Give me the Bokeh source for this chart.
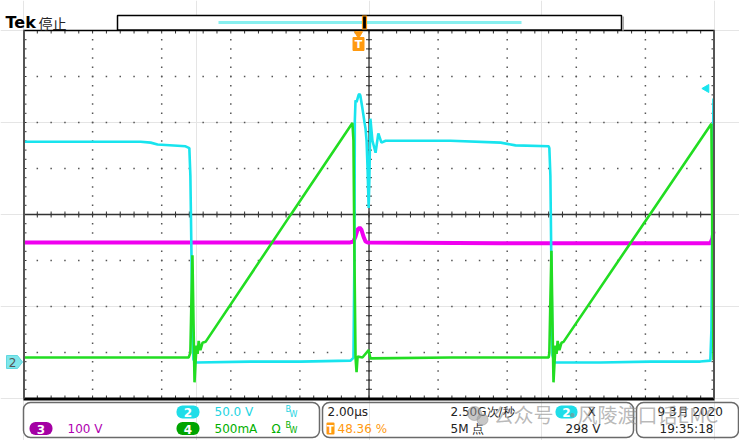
import numpy as np
from bokeh.plotting import figure
from bokeh.models import Range1d, BoxAnnotation
from bokeh.core.properties import value
from bokeh.embed import file_html
from bokeh.resources import INLINE

# ---------------- data ----------------
# time axis: microseconds, 2 us/div, screen centre = 0
# Channel 2 (cyan), volts, 50 V/div
ch2_t = [-10.00, -8.93, -7.77, -6.61, -6.32, -6.12, -5.31, -5.20, -5.17, -5.14, -5.11, -5.08, -4.99,
         -3.43, -1.98, -0.54, -0.45, -0.42, -0.41, -0.39, -0.36, -0.30, -0.27, -0.25, -0.19, -0.13,
         -0.10, -0.07, -0.04, -0.01, 0.01, 0.04, 0.10, 0.19, 0.27, 0.36, 0.48, 2.36, 3.81, 4.24,
         5.20, 5.22, 5.25, 5.28, 5.31, 5.37, 6.70, 8.15, 9.59, 9.88, 9.91, 9.94, 9.97]
ch2_v = [240, 240, 240, 240, 239, 237, 235, 233, 203, 122, 35, 3, 0,
         1, 1, 2, 5, 122, 263, 285, 283, 291, 292, 290, 276, 261,
         254, 241, 209, 168, 198, 265, 241, 228, 249, 239, 241, 241, 239, 236,
         235, 233, 203, 100, 8, 0, 0, 1, 1, 2, 35, 176, 287]
# Channel 4 (green), amps, 500 mA/div
ch4_t = [-10.00, -5.22, -5.17, -5.14, -5.11, -5.08, -5.05, -5.02, -4.99, -4.96, -4.93, -4.88, -4.82,
         -4.73, -2.27, -0.48, -0.45, -0.42, -0.39, -0.36, -0.33, -0.19, -0.01, 0.04, 2.36,
         5.20, 5.22, 5.25, 5.28, 5.31, 5.34, 5.37, 5.40, 5.43, 5.46, 5.51, 5.57, 5.63, 8.12,
         9.91, 9.94, 9.97]
ch4_i = [0.00, 0.00, 0.05, 0.62, 1.11, 0.40, -0.27, -0.05, 0.13, 0.04, 0.18, 0.08, 0.16,
         0.17, 1.55, 2.55, 2.36, 1.05, 0.00, -0.16, 0.01, 0.00, 0.08, -0.01, 0.00,
         0.00, 0.05, 0.62, 1.16, 0.40, -0.27, -0.05, 0.13, 0.04, 0.18, 0.08, 0.16, 0.17, 1.55,
         2.54, 1.16, -0.03]
# Channel 3 (magenta), volts, 100 V/div
ch3_t = [-10.00, -0.54, -0.45, -0.39, -0.33, -0.27, -0.22, -0.16, -0.10, -0.04, 3.81, 9.88, 9.94, 9.97]
ch3_v = [261, 261, 263, 274, 289, 293, 289, 274, 263, 261, 259, 259, 270, 285]

ch2_scale, ch3_scale, ch4_scale = 50.0, 100.0, 0.5

# ---------------- layout (picture pixels) ----------------
GL, GR, GT, GB = 23.0, 714.0, 30.0, 398.0
OFF = 0
W, H = 739, 440
PXX = 20.0 / (GR - GL)   # us per pixel
PXY = 8.0 / (GB - GT)    # div per pixel


def X(px):
    return -10 + (px - GL) * PXX


def Y(py):
    return 4 - (py - GT) * PXY


gnd2 = Y(362)
gnd3 = Y(362)
gnd4 = Y(357)

CYAN = "#18e4ee"
MAG = "#f000f0"
GRN = "#22dd22"
CYAN_T = "#22d4e2"
MAG_T = "#b000b0"
GRN_T = "#00b000"
ORANGE = "#ff9a10"

p = figure(width=W, height=H, x_range=Range1d(X(OFF), X(OFF + W)),
           y_range=Range1d(Y(OFF + H), Y(OFF)), output_backend="svg",
           toolbar_location=None, x_axis_location=None, y_axis_location=None,
           min_border=0, min_border_left=0, min_border_right=0, min_border_top=0,
           min_border_bottom=0, outline_line_color=None,
           background_fill_color="white", border_fill_color="white")


def txt(px, py, s, color, size="12px", font="DejaVu Sans", style="normal",
        align="left", alpha=1.0):
    p.text(x=[X(px)], y=[Y(py)], text=[s], text_color=color, text_font=value(font),
           text_font_size=size, text_font_style=style, text_align=align,
           text_baseline="middle", text_alpha=alpha)


def box(l, r, t, b, fill, line, radius, lw=1.5):
    p.add_layout(BoxAnnotation(left=X(l), right=X(r), top=Y(t), bottom=Y(b),
                               fill_color=fill if fill else "white",
                               fill_alpha=1.0 if fill else 0.0,
                               line_color=line if line else "white",
                               line_width=lw, line_alpha=1.0 if line else 0.0,
                               border_radius=int(radius), level="underlay"))


def pill(cx, cy, w, h, color, label):
    box(cx - w / 2, cx + w / 2, cy - h / 2, cy + h / 2, color, None, h // 2)
    txt(cx, cy + 0.5, label, "white", "12px", style="bold", align="center")


# ---------------- graticule ----------------
dx, dy = [], []
for i in range(1, 10):
    for j in range(1, 40):
        dx.append(-10 + 2 * i)
        dy.append(-4 + 0.2 * j)
for k in range(1, 8):
    for m in range(1, 50):
        dx.append(-10 + 0.4 * m)
        dy.append(-4 + k)
p.scatter(dx, dy, marker="square", size=1.5, color="#555555", line_color=None)

p.segment(x0=[-10, 0], y0=[0, -4], x1=[10, 0], y1=[0, 4], line_color="#333333", line_width=1.3)

tx = [-10 + 0.4 * m for m in range(1, 50)]
ty = [-4 + 0.2 * j for j in range(1, 40)]
t3y = 3 * PXY
t3x = 3 * PXX
p.segment(x0=tx, y0=[-t3y] * len(tx), x1=tx, y1=[t3y] * len(tx), line_color="#333333", line_width=1)
p.segment(x0=[-t3x] * len(ty), y0=ty, x1=[t3x] * len(ty), y1=ty, line_color="#333333", line_width=1)
p.segment(x0=tx, y0=[4] * len(tx), x1=tx, y1=[4 - t3y] * len(tx), line_color="#333333", line_width=1)
p.segment(x0=tx, y0=[-4] * len(tx), x1=tx, y1=[-4 + t3y] * len(tx), line_color="#333333", line_width=1)
p.segment(x0=[-10] * len(ty), y0=ty, x1=[-10 + t3x] * len(ty), y1=ty, line_color="#333333", line_width=1)
p.segment(x0=[10] * len(ty), y0=ty, x1=[10 - t3x] * len(ty), y1=ty, line_color="#333333", line_width=1)

# ---------------- traces ----------------
p.line(ch3_t, [gnd3 + v / ch3_scale for v in ch3_v], line_color=MAG, line_width=4)
p.line(ch2_t, [gnd2 + v / ch2_scale for v in ch2_v], line_color=CYAN, line_width=2.6)
p.line(ch4_t, [gnd4 + a / ch4_scale for a in ch4_i], line_color=GRN, line_width=2.6)

# frame
p.segment(x0=[X(GL), X(GL), X(GL + 0.5), X(GR - 0.5)],
          y0=[Y(GT), Y(GB + 0.5), Y(GT), Y(GT)],
          x1=[X(GR), X(GR), X(GL + 0.5), X(GR - 0.5)],
          y1=[Y(GT), Y(GB + 0.5), Y(GB), Y(GB)],
          line_color=["black", "black", "#555555", "#555555"], line_width=[1.5, 3, 2, 2])

# ---------------- top bar ----------------
txt(5, 22, "Tek", "black", "16px", font="DejaVu Sans", style="bold")
txt(38, 22, "停止", "#222222", "14px", font="Noto Sans CJK SC")
p.quad(left=[X(117)], right=[X(621)], top=[Y(15)], bottom=[Y(29.5)], fill_color="white",
       line_color="black", line_width=1.5)
p.segment(x0=[X(622.5)], y0=[Y(16)], x1=[X(622.5)], y1=[Y(30)], line_color="#aaaaaa", line_width=2)
p.segment(x0=[X(218)], y0=[Y(22)], x1=[X(521)], y1=[Y(22)], line_color="#88f0f0", line_width=3)
p.rect(x=[X(364)], y=[Y(22)], width=4, height=13, width_units="screen", height_units="screen",
       fill_color="black", line_color=ORANGE, line_width=1.2)

# trigger marker
p.scatter([X(358)], [Y(33.5)], marker="inverted_triangle", size=8, color=ORANGE)
p.rect(x=[X(358)], y=[Y(43.5)], width=11, height=13, width_units="screen", height_units="screen",
       fill_color=ORANGE, line_color=ORANGE)
txt(358, 44, "T", "white", "11px", style="bold", align="center")

# channel 2 ground marker and trigger level arrow
p.patch(x=[X(6), X(17), X(22), X(17), X(6)], y=[Y(355), Y(355), Y(361.5), Y(368), Y(368)],
        fill_color="#7fe6ea", line_color="#60d8e0", line_width=1)
txt(12, 362, "2", "#555555", "12px", align="center")
p.scatter([X(706)], [Y(88)], marker="triangle", angle=np.pi / 2, size=8, color=CYAN)

# ---------------- readout panels ----------------
box(23, 319, 402, 437, None, "#6a6a6a", 7)
box(322, 633, 402, 437, None, "#6a6a6a", 7)
box(636, 738, 402, 437, None, "#6a6a6a", 7)

R1, R2 = 411.5, 428
pill(187.5, R1, 23, 13, "#1fdde8", "2")
txt(214, R1, "50.0 V", CYAN_T)
txt(285, R1 - 3, "B", CYAN_T, "8px")
txt(289, R1 + 2, "W", CYAN_T, "8px")
pill(40.5, R2, 23, 13, "#a400a4", "3")
txt(67, R2, "100 V", MAG_T)
pill(187.5, R2, 23, 13, "#00a400", "4")
txt(214, R2, "500mA", GRN_T)
txt(271, R2, "Ω", GRN_T)
txt(285, R2 - 3, "B", GRN_T, "8px")
txt(289, R2 + 2, "W", GRN_T, "8px")

txt(327, R1, "2.00µs", "#222222")
box(326, 334, 422, 434, ORANGE, None, 1)
txt(330, R2 + 0.5, "T", "white", "10px", style="bold", align="center")
txt(337, R2, "48.36 %", ORANGE)
txt(450, R1, "2.50G次/秒", "#222222")
txt(450, R2, "5M 点", "#222222")
pill(566, R1, 22, 13, "#1fdde8", "2")
txt(587, R1, "X", "#222222")
txt(565, R2, "298 V", "#222222")
txt(657, R1, "9 3月 2020", "#222222")
txt(659, R2, "19:35:18", "#222222")

# watermark
p.scatter([X(474), X(482)], [Y(413), Y(419)], marker="circle", size=[14, 11],
          color="#999999", alpha=0.55)
txt(493, 414, "公众号", "#8a8a8a", "20px", font="Noto Sans CJK SC", alpha=0.6)
txt(562, 414, "·", "#8a8a8a", "20px", font="Noto Sans CJK SC", alpha=0.6)
txt(577, 414, "风陵渡口话EMC", "#8a8a8a", "20px", font="Noto Sans CJK SC", alpha=0.6)

open("out.html", "w").write(file_html(p, INLINE))
